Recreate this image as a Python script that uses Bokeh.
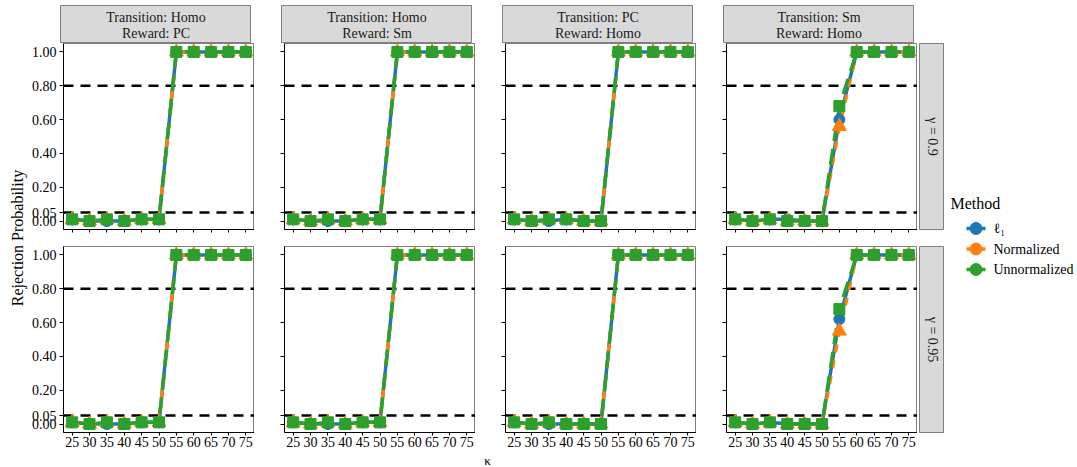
import math
from bokeh.plotting import figure
from bokeh.layouts import row, column
from bokeh.models import FixedTicker, Range1d, Span, CustomJSTickFormatter, NumeralTickFormatter
from bokeh.core.properties import value
from bokeh.embed import file_html
from bokeh.resources import INLINE

# ---------------------------------------------------------------- data
kappa = [25, 30, 35, 40, 45, 50, 55, 60, 65, 70, 75]
y_ticks = [0.0, 0.05, 0.2, 0.4, 0.6, 0.8, 1.0]
ref_levels = [0.05, 0.80]

methods = ["ℓ₁", "Normalized", "Unnormalized"]
colors = ["#1F77B4", "#FF7F0E", "#2CA02C"]
markers = ["circle", "triangle", "square"]
dashes = ["solid", "8 8", "16 8"]

col_strips = [("Transition: Homo", "Reward: PC"),
              ("Transition: Homo", "Reward: Sm"),
              ("Transition: PC", "Reward: Homo"),
              ("Transition: Sm", "Reward: Homo")]
row_strips = ["γ = 0.9", "γ = 0.95"]

# gamma = 0.9
homo_pc_l1_09 = [0.01, 0.00, 0.00, 0.00, 0.01, 0.01, 1.00, 1.00, 1.00, 1.00, 1.00]
homo_pc_norm_09 = [0.01, 0.00, 0.01, 0.00, 0.01, 0.01, 1.00, 1.00, 1.00, 1.00, 1.00]
homo_pc_unnorm_09 = [0.01, 0.00, 0.01, 0.00, 0.01, 0.01, 1.00, 1.00, 1.00, 1.00, 1.00]

homo_sm_l1_09 = [0.01, 0.00, 0.00, 0.00, 0.01, 0.01, 1.00, 1.00, 1.00, 1.00, 1.00]
homo_sm_norm_09 = [0.01, 0.00, 0.01, 0.00, 0.01, 0.01, 1.00, 1.00, 1.00, 1.00, 1.00]
homo_sm_unnorm_09 = [0.01, 0.00, 0.01, 0.00, 0.01, 0.01, 1.00, 1.00, 1.00, 1.00, 1.00]

pc_homo_l1_09 = [0.01, 0.00, 0.00, 0.01, 0.00, 0.00, 1.00, 1.00, 1.00, 1.00, 1.00]
pc_homo_norm_09 = [0.01, 0.00, 0.01, 0.01, 0.00, 0.00, 1.00, 1.00, 1.00, 1.00, 1.00]
pc_homo_unnorm_09 = [0.01, 0.00, 0.01, 0.01, 0.00, 0.00, 1.00, 1.00, 1.00, 1.00, 1.00]

sm_homo_l1_09 = [0.01, 0.00, 0.01, 0.01, 0.00, 0.00, 0.60, 1.00, 1.00, 1.00, 1.00]
sm_homo_norm_09 = [0.01, 0.00, 0.01, 0.00, 0.00, 0.00, 0.56, 1.00, 1.00, 1.00, 1.00]
sm_homo_unnorm_09 = [0.01, 0.00, 0.01, 0.00, 0.00, 0.00, 0.68, 1.00, 1.00, 1.00, 1.00]

# gamma = 0.95
homo_pc_l1_095 = [0.01, 0.00, 0.00, 0.00, 0.01, 0.01, 1.00, 1.00, 1.00, 1.00, 1.00]
homo_pc_norm_095 = [0.01, 0.00, 0.01, 0.00, 0.01, 0.01, 1.00, 1.00, 1.00, 1.00, 1.00]
homo_pc_unnorm_095 = [0.01, 0.00, 0.01, 0.00, 0.01, 0.01, 1.00, 1.00, 1.00, 1.00, 1.00]

homo_sm_l1_095 = [0.01, 0.00, 0.00, 0.00, 0.01, 0.01, 1.00, 1.00, 1.00, 1.00, 1.00]
homo_sm_norm_095 = [0.01, 0.00, 0.01, 0.00, 0.01, 0.01, 1.00, 1.00, 1.00, 1.00, 1.00]
homo_sm_unnorm_095 = [0.01, 0.00, 0.01, 0.00, 0.01, 0.01, 1.00, 1.00, 1.00, 1.00, 1.00]

pc_homo_l1_095 = [0.01, 0.00, 0.00, 0.00, 0.00, 0.00, 1.00, 1.00, 1.00, 1.00, 1.00]
pc_homo_norm_095 = [0.01, 0.00, 0.01, 0.00, 0.00, 0.00, 1.00, 1.00, 1.00, 1.00, 1.00]
pc_homo_unnorm_095 = [0.01, 0.00, 0.01, 0.00, 0.00, 0.00, 1.00, 1.00, 1.00, 1.00, 1.00]

sm_homo_l1_095 = [0.01, 0.00, 0.01, 0.00, 0.00, 0.00, 0.62, 1.00, 1.00, 1.00, 1.00]
sm_homo_norm_095 = [0.01, 0.00, 0.01, 0.00, 0.00, 0.00, 0.55, 1.00, 1.00, 1.00, 1.00]
sm_homo_unnorm_095 = [0.01, 0.00, 0.01, 0.00, 0.00, 0.00, 0.68, 1.00, 1.00, 1.00, 1.00]

panel_series = [
    [(homo_pc_l1_09, homo_pc_norm_09, homo_pc_unnorm_09),
     (homo_sm_l1_09, homo_sm_norm_09, homo_sm_unnorm_09),
     (pc_homo_l1_09, pc_homo_norm_09, pc_homo_unnorm_09),
     (sm_homo_l1_09, sm_homo_norm_09, sm_homo_unnorm_09)],
    [(homo_pc_l1_095, homo_pc_norm_095, homo_pc_unnorm_095),
     (homo_sm_l1_095, homo_sm_norm_095, homo_sm_unnorm_095),
     (pc_homo_l1_095, pc_homo_norm_095, pc_homo_unnorm_095),
     (sm_homo_l1_095, sm_homo_norm_095, sm_homo_unnorm_095)],
]

# ---------------------------------------------------------------- style
FONT = "Liberation Serif"
TICK_SIZE = "14px"
STRIP_FILL = "#D9D9D9"
STRIP_LINE = "#7F7F7F"
FRAME_W, FRAME_H = 191, 186
LEFT_FIRST, LEFT_OTHER = 32, 30
BOTTOM = [17, 20]
STRIP_TOP_H = 43
RIGHT_STRIP_W = 25
YLAB_W = 28
LEGEND_W = 136
KAPPA_H = 15
TOTAL_H = 467

blank = CustomJSTickFormatter(code="return '';")


def bare(width, height, xr, yr, fill="white", outline=None, left=0, top=0, bottom=0):
    p = figure(width=width, height=height, x_range=Range1d(*xr), y_range=Range1d(*yr),
               x_axis_type=None, y_axis_type=None, output_backend="svg",
               toolbar_location=None, min_border_left=left, min_border_right=0,
               min_border_top=top, min_border_bottom=bottom,
               background_fill_color=fill, border_fill_color="white",
               outline_line_color=outline)
    p.xgrid.visible = False
    p.ygrid.visible = False
    return p


def panel(ri, ci):
    left = LEFT_FIRST if ci == 0 else LEFT_OTHER
    bottom = BOTTOM[ri]
    p = figure(width=left + FRAME_W, height=FRAME_H + bottom,
               frame_width=FRAME_W, frame_height=FRAME_H,
               x_range=Range1d(22.5, 77.5), y_range=Range1d(-0.05, 1.05),
               output_backend="svg", toolbar_location=None,
               min_border_left=left, min_border_right=0,
               min_border_top=0, min_border_bottom=bottom,
               background_fill_color="white", border_fill_color="white",
               outline_line_color=STRIP_LINE, outline_line_width=1)
    p.xgrid.visible = False
    p.ygrid.visible = False

    p.xaxis.ticker = FixedTicker(ticks=kappa)
    p.yaxis.ticker = FixedTicker(ticks=y_ticks)
    p.yaxis.formatter = NumeralTickFormatter(format="0.00") if ci == 0 else blank
    if ri == 0:
        p.xaxis.formatter = blank
    for ax in (p.xaxis[0], p.yaxis[0]):
        ax.axis_line_color = "black"
        ax.axis_line_width = 1
        ax.major_tick_line_color = "black"
        ax.major_tick_line_width = 1
        ax.major_tick_in = 0
        ax.minor_tick_line_color = None
        ax.major_label_text_font = FONT
        ax.major_label_text_font_size = TICK_SIZE
        ax.major_label_text_color = "black"
    p.yaxis.major_tick_out = 4
    p.yaxis.major_label_standoff = 3
    p.xaxis.major_tick_out = 3
    p.xaxis.major_label_standoff = 1

    for lvl in ref_levels:
        p.add_layout(Span(location=lvl, dimension="width", line_color="black",
                          line_width=2.5, line_dash="10 7", level="underlay"))

    series = panel_series[ri][ci]
    for vals, c, d in zip(series, colors, dashes):
        p.line(kappa, vals, line_color=c, line_width=3.5, line_dash=d)
    for vals, c, m in zip(series, colors, markers):
        size = 14 if m == "triangle" else 11
        p.scatter(kappa, vals, marker=m, size=size, fill_color=c, line_color=c,
                  line_width=1)
    return p


def top_strip(ci):
    left = LEFT_FIRST if ci == 0 else LEFT_OTHER
    p = bare(left + FRAME_W, STRIP_TOP_H, (0, 1), (0, 1), fill=STRIP_FILL,
             outline=STRIP_LINE, left=left, top=5)
    p.text(x=[0.5, 0.5], y=[0.676, 0.271], text=list(col_strips[ci]),
           text_font=value(FONT), text_font_size="14px", text_color="#1A1A1A",
           text_align="center", text_baseline="middle")
    return p


def right_strip(ri):
    p = bare(2 + RIGHT_STRIP_W, FRAME_H + BOTTOM[ri], (0, 1), (0, 1),
             fill=STRIP_FILL, outline=STRIP_LINE, left=2, bottom=BOTTOM[ri])
    p.text(x=[0.5], y=[0.5], text=[row_strips[ri]], angle=-math.pi / 2,
           text_font=value(FONT), text_font_size="14px", text_color="#1A1A1A",
           text_align="center", text_baseline="middle")
    return p


# ---------------------------------------------------------------- layout
strip_row = row(*[top_strip(ci) for ci in range(4)])
panel_rows = []
for ri in range(2):
    panel_rows.append(row(*[panel(ri, ci) for ci in range(4)], right_strip(ri)))

main_w = LEFT_FIRST + FRAME_W + 3 * (LEFT_OTHER + FRAME_W) + 2 + RIGHT_STRIP_W
x0 = YLAB_W
kfig = bare(main_w, KAPPA_H, (x0, x0 + main_w), (0, KAPPA_H))
kfig.text(x=[(x0 + LEFT_FIRST + x0 + main_w - 2 - RIGHT_STRIP_W) / 2], y=[KAPPA_H / 2],
          text=["κ"], text_font=value(FONT), text_font_size="13px", text_color="black",
          text_align="center", text_baseline="middle")

main = column(strip_row, *panel_rows, kfig)

ylab = bare(YLAB_W, TOTAL_H, (0, YLAB_W), (0, TOTAL_H))
ylab.text(x=[17], y=[TOTAL_H - 237.5], text=["Rejection Probability"], angle=math.pi / 2,
          text_font=value(FONT), text_font_size="16px", text_color="black",
          text_align="center", text_baseline="middle")

# legend drawn in its own column to the right of the panels
leg = bare(LEGEND_W, TOTAL_H, (0, LEGEND_W), (0, TOTAL_H))
leg.text(x=[6], y=[TOTAL_H - 203], text=["Method"], text_font=value(FONT),
         text_font_size="16px", text_color="black", text_align="left",
         text_baseline="middle")
key_y = [TOTAL_H - 228, TOTAL_H - 248.5, TOTAL_H - 269]
for yk, c, name in zip(key_y, colors, methods):
    leg.line([22, 41], [yk, yk], line_color=c, line_width=3.5)
    leg.scatter([31.5], [yk], marker="circle", size=12, fill_color=c, line_color=c)
    leg.text(x=[49], y=[yk], text=[name], text_font=value(FONT),
             text_font_size="14px", text_color="black", text_align="left",
             text_baseline="middle")

page = row(ylab, main, leg)

open("out.html", "w").write(file_html(page, INLINE))
